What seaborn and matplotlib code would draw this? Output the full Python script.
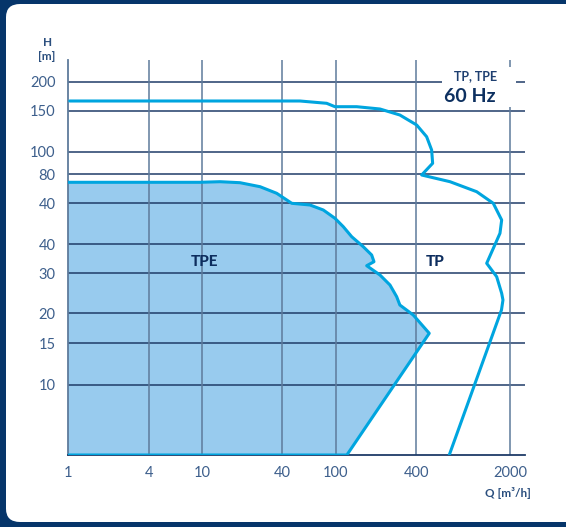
import numpy as np
import pandas as pd
import matplotlib.pyplot as plt
import seaborn as sns
from matplotlib.patches import FancyBboxPatch, Rectangle

# Q in m3/h; H given as position on the chart's H scale (the scale is not regular,
# so heights are kept in scale units and the ticks are labelled separately)
tp_q = [1.03, 20, 54, 85.5, 98.6, 143.3, 213.9, 301, 402, 477, 520, 529,
        438, 713, 1128, 1501, 1734, 1684, 1340, 1591, 1734, 1773, 1728, 704]
tp_h = [35.4, 35.4, 35.4, 35.17, 34.83, 34.83, 34.6, 34.0, 33.0, 31.83, 30.5, 29.17,
        28.0, 27.33, 26.33, 25.17, 23.5, 22.17, 19.17, 17.83, 16.17, 15.5, 14.5, 0.0]

tpe_q = [1, 9.68, 13.65, 19.26, 27.2, 36.2, 46.9, 64.2, 80.7, 98.6, 113.8, 131.5, 160.4, 185.4,
         192.9, 170.2, 213.9, 254, 285, 301, 379, 499, 121, 1]
tpe_h = [27.27, 27.27, 27.33, 27.23, 26.83, 26.17, 25.17, 25.0, 24.5, 23.67, 22.83, 21.83, 20.83, 20.0,
         19.33, 18.93, 18.0, 17.0, 15.83, 15.0, 14.0, 12.17, 0.0, 0.0]

x_ticks = [1, 4, 10, 40, 100, 400, 2000]
x_labels = ['1', '4', '10', '40', '100', '400', '2000']
y_tick_pos = [37.33, 34.43, 30.33, 28.07, 25.17, 21.1, 18.17, 14.17, 11.17, 7.0]
y_labels = ['200', '150', '100', '80', '40', '40', '30', '20', '15', '10']

NAVY = '#06356a'
TEXT = '#3d5f8c'
CYAN = '#00a5df'
FILL = '#98cbee'
HGRID = '#1f3c68'
VGRID = '#5e7b9b'

sns.set_theme(style='white')
plt.rcParams['font.family'] = ['Lato', 'DejaVu Sans']

fig = plt.figure(figsize=(5.66, 5.27), dpi=100, facecolor=NAVY)
panel = FancyBboxPatch((6 / 566, 5 / 527), 1.1, 518 / 527, boxstyle='round,pad=0,rounding_size=0.025',
                       transform=fig.transFigure, facecolor='white', edgecolor='none', zorder=-5)
fig.patches.append(panel)

ax = fig.add_axes([68 / 566, 72 / 527, 457 / 566, 395 / 527])
ax.set_facecolor('none')
ax.set_xscale('log')
ax.set_xlim(1, 2590)
ax.set_ylim(0, 39.5)

# TPE area
ax.fill(tpe_q, tpe_h, color=FILL, lw=0, zorder=1)
tpe = pd.DataFrame({'Q': tpe_q, 'H': tpe_h})
sns.lineplot(data=tpe, x='Q', y='H', sort=False, estimator=None, color=CYAN, lw=2.2,
             solid_joinstyle='round', ax=ax, zorder=4)

# TP envelope
tp = pd.DataFrame({'Q': tp_q, 'H': tp_h})
sns.lineplot(data=tp, x='Q', y='H', sort=False, estimator=None, color=CYAN, lw=2.2,
             solid_joinstyle='round', ax=ax, zorder=4)

# grid drawn over the fill
for y in y_tick_pos:
    ax.axhline(y, color=HGRID, lw=1.1, zorder=2)
for x in x_ticks[1:]:
    ax.axvline(x, color=VGRID, lw=1.1, zorder=2)

ax.set_xticks(x_ticks)
ax.set_xticklabels(x_labels)
ax.xaxis.set_minor_locator(plt.NullLocator())
ax.set_yticks(y_tick_pos)
ax.set_yticklabels(y_labels)
ax.tick_params(axis='both', length=0, labelsize=10.5, colors=TEXT)
ax.tick_params(axis='x', pad=8)
ax.tick_params(axis='y', pad=9)
ax.set_xlabel('')
ax.set_ylabel('')

for s in ['top', 'right']:
    ax.spines[s].set_visible(False)
ax.spines['bottom'].set_color(HGRID)
ax.spines['bottom'].set_linewidth(1.3)
ax.spines['left'].set_color(VGRID)
ax.spines['left'].set_linewidth(1.3)
ax.spines['bottom'].set_zorder(3)
ax.spines['left'].set_zorder(3)

# curve labels
ax.text(10.4, 19.3, 'TPE', ha='center', va='center', fontsize=11, fontweight='black', color='#0d2d5e', zorder=5)
ax.text(551, 19.3, 'TP', ha='center', va='center', fontsize=11, fontweight='black', color='#0d2d5e', zorder=5)

# header box
ax.add_patch(Rectangle((442 / 566, 420 / 527), 74 / 566, 40 / 527, transform=fig.transFigure,
                       facecolor='white', edgecolor='none', zorder=6, clip_on=False))
fig.text(476 / 566, 1 - 76 / 527, 'TP, TPE', ha='center', va='center', fontsize=9,
         fontweight='bold', color='#1e3f70', zorder=7)
fig.text(470 / 566, 1 - 96 / 527, '60 Hz', ha='center', va='center', fontsize=14,
         fontweight='bold', color='#0d3060', zorder=7)

# axis titles
fig.text(48 / 566, 1 - 42 / 527, 'H', ha='center', va='center', fontsize=8.5, fontweight='bold', color='#2b4f7e')
fig.text(47 / 566, 1 - 57 / 527, '[m]', ha='center', va='center', fontsize=8.5, fontweight='bold', color='#2b4f7e')
fig.text(531 / 566, 1 - 493 / 527, 'Q [m³/h]', ha='right', va='center', fontsize=8.5, fontweight='bold', color='#2b4f7e')

fig.savefig('out.png', dpi=100, facecolor=NAVY)
